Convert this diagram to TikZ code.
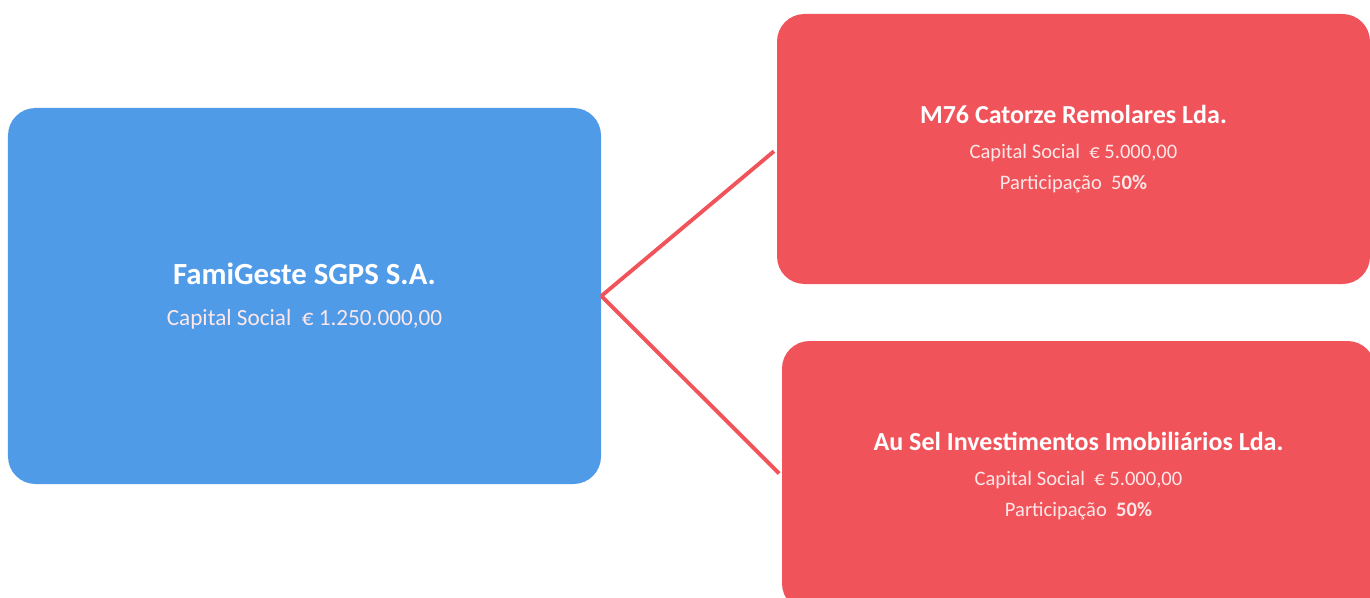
\documentclass[tikz,border=0pt]{standalone}
\usepackage{fontspec}
\setmainfont{Carlito}
\usepackage{tikz}
\usetikzlibrary{positioning}
\definecolor{famiblue}{RGB}{80,155,232}
\definecolor{partred}{RGB}{240,84,90}
\newcommand{\firmname}[2][14.8]{{\fontsize{#1}{18}\selectfont\bfseries #2}}
\newcommand{\firminfo}[1]{{\color{white!86!partred}#1}}

\begin{document}
\begin{tikzpicture}[%
  company/.style={rectangle, rounded corners=0.55cm, text=white, align=center,
    inner sep=0pt, minimum width=11.86cm},
  holding/.style={company, fill=famiblue, minimum height=7.52cm,
    font=\fontsize{13.2}{18}\selectfont},
  subsid/.style={company, fill=partred, minimum height=5.4cm,
    font=\fontsize{11.7}{17.6}\selectfont},
  link/.style={draw=partred, line width=2.2pt, shorten >=2pt}
  ]
  \useasboundingbox (0,0) rectangle (27.4,11.94);
  \node[holding] (famigeste) at (6.09,6.02)
    {\firmname[17.5]{FamiGeste SGPS S.A.}\\[5pt]
     \firminfo{Capital Social\ \ € 1.250.000,00}};
  \node[subsid] (m76) at (21.47,8.96)
    {\firmname{M76 Catorze Remolares Lda.}\\[2pt]
     \firminfo{Capital Social\ \ € 5.000,00}\\
     \firminfo{Participação\ \ 5\textbf{0\%}}};
  \node[subsid] (ausel) at (21.57,2.42)
    {\firmname{Au Sel Investimentos Imobiliários Lda.}\\[2pt]
     \firminfo{Capital Social\ \ € 5.000,00}\\
     \firminfo{Participação\ \ \textbf{50\%}}};
  \draw[link] (famigeste.east) -- (m76.west);
  \draw[link] (famigeste.east) -- (ausel.west);
\end{tikzpicture}
\end{document}
